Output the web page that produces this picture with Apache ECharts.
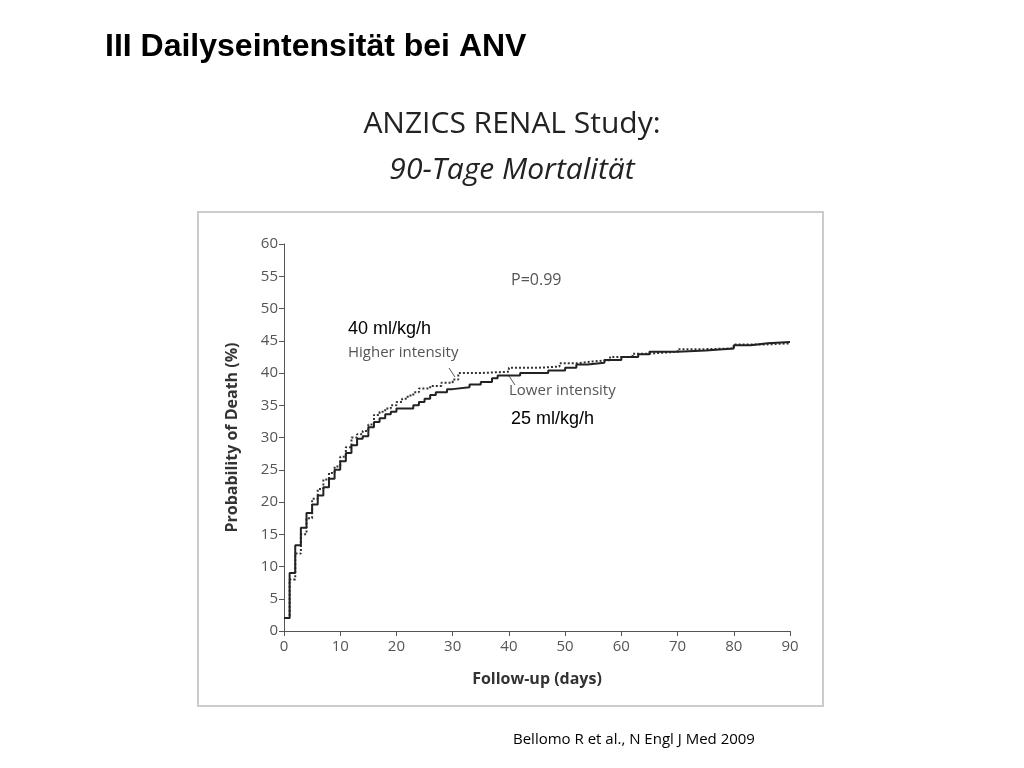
<!DOCTYPE html>
<html lang="de">
<head>
    <meta charset="UTF-8">
    <title>ANZICS RENAL Study</title>
    <script src="https://cdn.jsdelivr.net/npm/echarts@6/dist/echarts.min.js"></script>
    <style>
        body{ padding:0; margin:0; background:#fff; }
        #chart{ width:1024px; height:768px; }
    </style>
</head>
<body>
<div id="chart"></div>
<script>
    // Kaplan-Meier Stufen
    var lowerDays = [0,1,2,3,4,5,6,7,8,9,10,11,12,13,14,15,16,17,18,19,20,23,24,25,26,27,29,30,33,35,37,38,42,47,50,52,54,57,60,63,65,70,75,80,83,86,90];
    var lowerVals = [2,9,13.3,16,18.3,19.6,21,22.3,23.6,25,26.3,27.6,28.8,29.8,30.2,31.6,32.4,33,33.6,34,34.5,35,35.5,36,36.6,37,37.5,37.8,38.2,38.6,39.2,39.6,40,40.4,40.8,41.3,41.6,42,42.5,42.9,43.3,43.5,43.8,44.3,44.6,44.8,44.8];
    var higherDays = [0,1,2,3,4,5,6,7,8,9,10,11,12,13,14,15,16,17,18,19,20,21,22,23,24,26,28,30,31,35,40,45,49,52,55,58,62,65,70,75,80,85,90];
    var higherVals = [2,8,12,15,17.5,20.5,22,23.5,24.5,25.5,27,28.5,30,30.5,31,32,33.5,34,34.5,35,35.5,36,36.5,37,37.6,38,38.5,39,40,40.2,40.8,41,41.5,41.8,42,42.5,43,43.3,43.7,43.8,44.4,44.6,44.6];

    function pairs(xs, ys){ return xs.map(function(x, i){ return [x, ys[i]]; }); }

    var chart = echarts.init(document.getElementById('chart'));
    var grey = '#555';
    chart.setOption({
        animation: false,
        title: [
            { text: 'III Dailyseintensität bei ANV', left: 100, top: 26,
              textStyle: { fontFamily: 'Liberation Sans', fontSize: 32, fontWeight: 'bold', color: '#000' } },
            { text: 'ANZICS RENAL Study:', left: 'center', top: 104,
              textStyle: { fontFamily: 'Open Sans', fontSize: 30, fontWeight: 'normal', color: '#222' } },
            { text: '90-Tage Mortalität', left: 'center', top: 150,
              textStyle: { fontFamily: 'Open Sans', fontSize: 30, fontStyle: 'italic', fontWeight: 'normal', color: '#222' } },
            { text: 'Bellomo R et al., N Engl J Med 2009', left: 508, top: 727,
              textStyle: { fontFamily: 'Open Sans', fontSize: 15, fontWeight: 'normal', color: '#000' } }
        ],
        graphic: [
            { type: 'rect', shape: { x: 198, y: 212, width: 625, height: 494 }, style: { fill: 'none', stroke: '#ccc', lineWidth: 2 }, z: -1 },
            { type: 'text', left: 511, top: 272, style: { text: 'P=0.99', fill: grey, font: '16px "Open Sans"' } },
            { type: 'text', left: 348, top: 320, style: { text: '40 ml/kg/h', fill: '#000', font: '18px "Liberation Sans"' } },
            { type: 'text', left: 348, top: 345, style: { text: 'Higher intensity', fill: grey, font: '15px "Open Sans"' } },
            { type: 'text', left: 509, top: 383, style: { text: 'Lower intensity', fill: grey, font: '15px "Open Sans"' } },
            { type: 'text', left: 511, top: 410, style: { text: '25 ml/kg/h', fill: '#000', font: '18px "Liberation Sans"' } },
            { type: 'line', shape: { x1: 449, y1: 368, x2: 455, y2: 377 }, style: { stroke: grey, lineWidth: 1 } },
            { type: 'line', shape: { x1: 509, y1: 376, x2: 515, y2: 385 }, style: { stroke: grey, lineWidth: 1 } }
        ],
        grid: { left: 284, right: 234, top: 244, bottom: 137 },
        xAxis: {
            type: 'value', min: 0, max: 90, interval: 10,
            name: 'Follow-up (days)', nameLocation: 'middle', nameGap: 40,
            nameTextStyle: { fontFamily: 'Open Sans', fontWeight: 'bold', fontSize: 16, color: '#333' },
            axisLine: { lineStyle: { color: grey } },
            axisTick: { lineStyle: { color: grey } },
            axisLabel: { color: grey, fontFamily: 'Open Sans', fontSize: 15, margin: 8 },
            splitLine: { show: false }
        },
        yAxis: {
            type: 'value', min: 0, max: 60, interval: 5,
            name: 'Probability of Death (%)', nameLocation: 'middle', nameGap: 44,
            nameTextStyle: { fontFamily: 'Open Sans', fontWeight: 'bold', fontSize: 16, color: '#333' },
            axisLine: { show: true, lineStyle: { color: grey } },
            axisTick: { show: true, lineStyle: { color: grey } },
            axisLabel: { color: grey, fontFamily: 'Open Sans', fontSize: 15, margin: 6 },
            splitLine: { show: false }
        },
        series: [
            { type: 'line', step: 'end', symbol: 'none', data: pairs(higherDays, higherVals),
              lineStyle: { color: '#333', width: 2, type: 'dotted' } },
            { type: 'line', step: 'end', symbol: 'none', data: pairs(lowerDays, lowerVals),
              lineStyle: { color: '#222', width: 2 } }
        ]
    });
</script>
</body>
</html>
